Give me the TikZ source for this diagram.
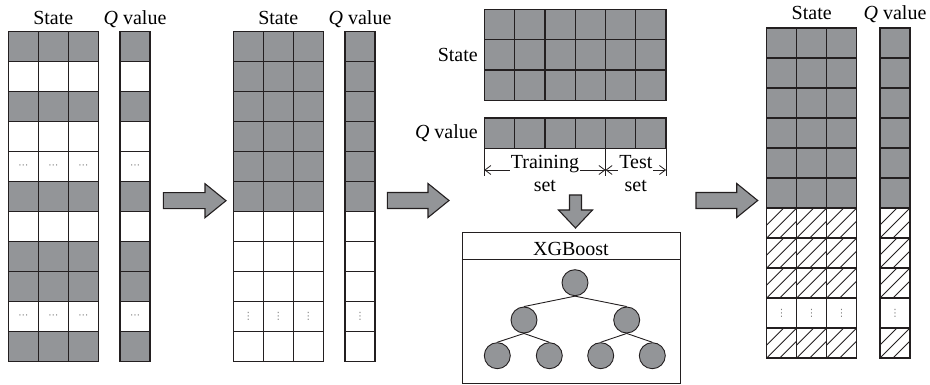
\documentclass[tikz,border=0pt]{standalone}
\usepackage{fontspec}
\setmainfont{Liberation Serif}
\newfontfamily\symfont{DejaVu Sans}
\usetikzlibrary{arrows.meta, positioning}

\definecolor{cellfill}{HTML}{939598}
\definecolor{inkline}{HTML}{231F20}
\definecolor{dotgray}{HTML}{7F7F7F}

% one cell of a table: g = filled, w = empty, d/v = dots, h = hatched
\newcommand\qcell[4]{%
  \if#4g\fill[cellfill] (#2,#3) rectangle ++(30,30);\fi
  \if#4h\begin{scope}
      \clip (#2,#3) rectangle ++(30,30);
      \foreach \hc in {17,30,43}
        \draw[hatch] (#2+\hc-40,#3+40) -- (#2+\hc+10,#3-10);
    \end{scope}\fi
  \if#4d\node[celldots] (#1) at (#2+15,#3+15) {⋯};\fi
  \if#4v\node[celldots] (#1) at (#2+15,#3+15) {⋮};\fi
  \draw[cellline] (#2,#3) rectangle ++(30,30);
}
% state table (3 columns) and Q column, one kind per row
\newcommand\qtable[5]{%
  \foreach \k [count=\r] in {#5} {
    \foreach \cx [count=\col] in {#2,#2+30,#2+60,#3} {
      \qcell{#1-\r-\col}{\cx}{#4+30*\r-30}{\k}
    }
  }
}
% big grey arrow: start, angle, length, head length, half shaft, half head
\newcommand\blockarrow[6]{%
  \filldraw[arrowbody, shift={#1}, rotate=#2]
    (0,-#5) -- (#3-#4,-#5) -- (#3-#4,-#6) -- (#3,0)
    -- (#3-#4,#6) -- (#3-#4,#5) -- (0,#5) -- cycle;
}

\begin{document}
\begin{tikzpicture}[x=1pt, y=-1pt, font=\fontsize{20}{25}\selectfont,
    lbl/.style={anchor=base, inner sep=0pt},
    cellline/.style={draw=inkline, line width=1.3pt},
    hatch/.style={draw=inkline, line width=0.8pt},
    celldots/.style={font=\symfont\fontsize{10}{10}\selectfont, text=dotgray, inner sep=0pt},
    arrowbody/.style={fill=cellfill, draw=inkline, line width=1.1pt, line join=miter},
    dimline/.style={draw=inkline, line width=0.8pt},
    dimtip/.style={{Straight Barb[length=6pt,width=9pt]}-{Straight Barb[length=6pt,width=9pt]}},
    setlbl/.style={fill=white, align=center, inner sep=1pt, anchor=north, yshift=16pt,
      font=\fontsize{20}{23}\selectfont},
    treenode/.style={circle, fill=cellfill, draw=inkline, line width=0.9pt,
      minimum size=26pt, inner sep=0pt},
    treeedge/.style={draw=inkline, line width=0.9pt}]
  \useasboundingbox (0,0) rectangle (930,385);

  % raw samples
  \qtable{raw}{8.3}{120}{31.7}{g,w,g,w,d,g,w,g,g,d,g}
  \node[lbl] (state1) at (53.3,25) {State};
  \node[lbl] (qval1) at (135,25) {\textit{Q} value};

  \blockarrow{(163.3,200.7)}{0}{62.7}{21}{8}{17}

  % sorted samples
  \qtable{sorted}{233.3}{345}{31.7}{g,g,g,g,g,g,w,w,w,v,w}
  \node[lbl] (state2) at (278.3,25) {State};
  \node[lbl] (qval2) at (360,25) {\textit{Q} value};

  \blockarrow{(387.3,200.5)}{0}{61.7}{21}{8}{17}

  % training data
  \foreach \r in {0,1,2}
    \foreach \col in {0,...,5}
      \filldraw[cellline, fill=cellfill] (484.3+30.3*\col,9.3+30.3*\r) rectangle ++(30.3,30.3);
  \foreach \col in {0,...,5}
    \filldraw[cellline, fill=cellfill] (484.3+30.3*\col,117.9) rectangle ++(30.3,30.3);
  \node[lbl, anchor=base east] (state3) at (478,61.7) {State};
  \node[lbl, anchor=base east] (qval3) at (478,138.3) {\textit{Q} value};

  \foreach \tx in {484.3,605.5,666.1}
    \draw[dimline] (\tx,148.2) -- (\tx,176);
  \coordinate (trainL) at (484.3,170);
  \coordinate (trainR) at (605.5,170);
  \coordinate (testR) at (666.1,170);
  \draw[dimline, dimtip] (trainL) -- node[setlbl] (train) {Training\\set} (trainR);
  \draw[dimline, dimtip] (trainR) -- node[setlbl] (test) {Test\\set} (testR);

  \blockarrow{(575.5,195)}{-90}{33}{18}{6}{17}

  % model
  \node[draw=inkline, line width=1.1pt, minimum width=218.3pt, minimum height=151.3pt,
    anchor=north west, inner sep=0pt] (xgb) at (461.7,231.7) {};
  \coordinate (divL) at (461.7,259.3);
  \draw[draw=inkline, line width=1.1pt] (divL) -- (divL -| xgb.east);
  \node[lbl] (xgbtitle) at (571,255) {XGBoost};

  \node[treenode] (root) at (575,282.7) {};
  \node[treenode] (nl) at (524,320) {};
  \node[treenode] (nr) at (626.7,320) {};
  \node[treenode] (nll) at (497.3,355.7) {};
  \node[treenode] (nlr) at (549.3,355.7) {};
  \node[treenode] (nrl) at (600.7,355.7) {};
  \node[treenode] (nrr) at (652.3,355.7) {};
  \draw[treeedge] (root.south) -- (nl.north);
  \draw[treeedge] (root.south) -- (nr.north);
  \draw[treeedge] (nl.south) -- (nll.north);
  \draw[treeedge] (nl.south) -- (nlr.north);
  \draw[treeedge] (nr.south) -- (nrl.north);
  \draw[treeedge] (nr.south) -- (nrr.north);

  \blockarrow{(696,200.5)}{0}{61.7}{21}{8}{17}

  % predicted samples
  \qtable{pred}{766.7}{880}{28}{g,g,g,g,g,g,h,h,h,v,h}
  \node[lbl] (state4) at (811.7,20) {State};
  \node[lbl] (qval4) at (895,20) {\textit{Q} value};
\end{tikzpicture}
\end{document}
